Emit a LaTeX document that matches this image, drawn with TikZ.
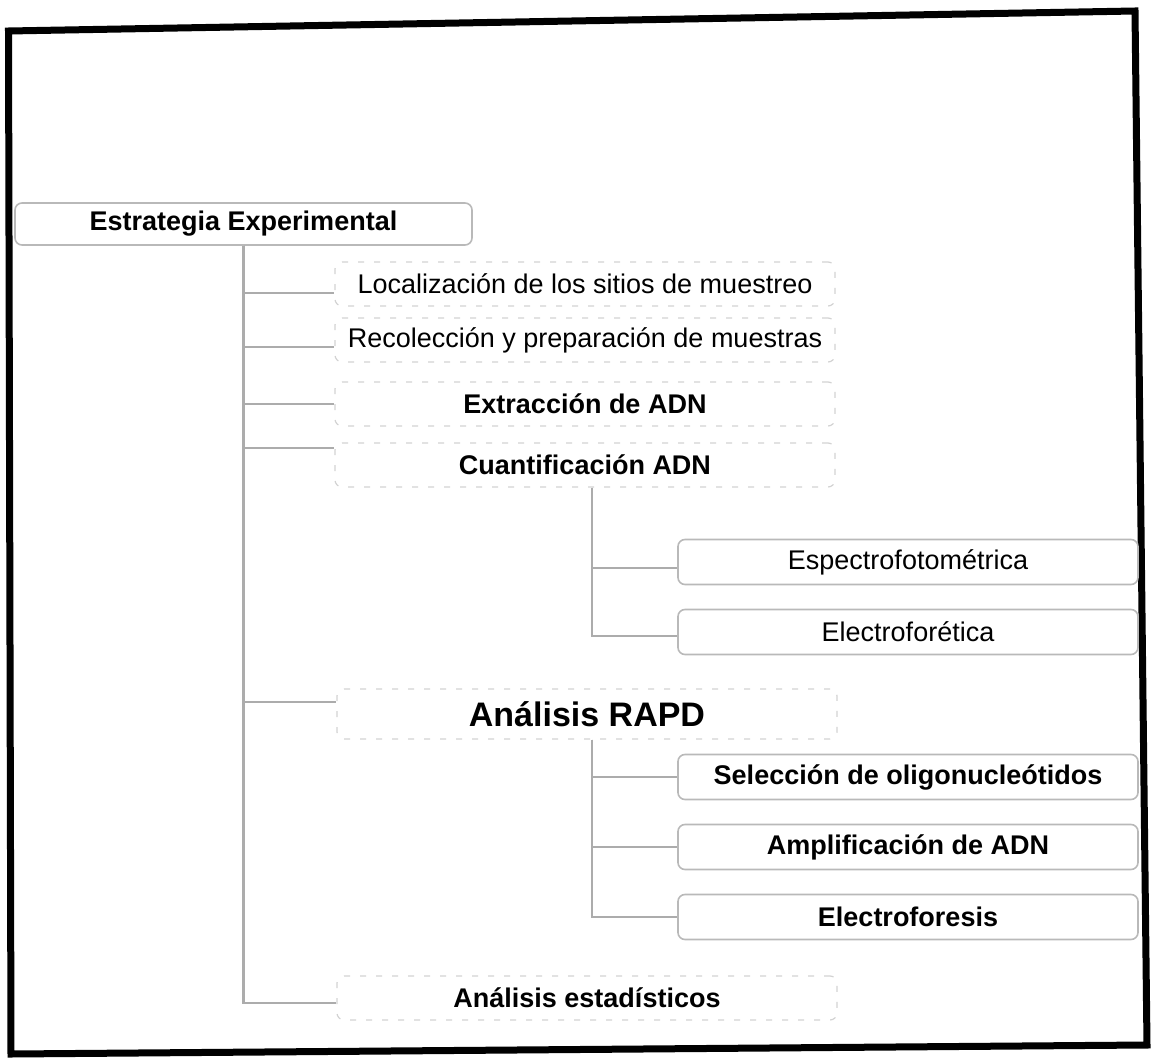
\documentclass[tikz,border=0pt]{standalone}
\usepackage{fontspec}
\setmainfont{Liberation Sans}
\usepackage{tikz}

\begin{document}
\begin{tikzpicture}[x=1pt,y=-1pt,
    txt/.style={font=\fontsize{27}{32}\selectfont, inner sep=0pt},
    bold/.style={font=\fontsize{27}{32}\selectfont\bfseries},
    solidbox/.style={txt, draw=gray!55, line width=1.6pt, rounded corners=7pt},
    faintbox/.style={txt, draw=gray!35, line width=1.2pt, dash pattern=on 6pt off 10pt, rounded corners=7pt},
    mainbox/.style={minimum width=500pt, minimum height=44pt},
    subbox/.style={minimum width=460pt, minimum height=45pt},
    link/.style={draw=gray!65, line width=2.4pt}]
  \useasboundingbox (0,0) rectangle (1152,1060);
  \draw[line width=7pt, line join=miter] (8.5,31) -- (1135,11) -- (1147,1045) -- (11,1054) -- cycle;

  \path
  (243.5,224) node[solidbox, bold, minimum width=457pt, minimum height=42pt] (root) {Estrategia Experimental}
  (585,284) node[faintbox, mainbox] (loc) {Localización de los sitios de muestreo}
  (585,340) node[faintbox, mainbox] (rec) {Recolección y preparación de muestras}
  (585,404) node[faintbox, mainbox, bold] (ext) {Extracción de ADN}
  (585,465) node[faintbox, mainbox, bold] (cua) {Cuantificación ADN}
  (908,562) node[solidbox, subbox] (esp) {Espectrofotométrica}
  (908,632) node[solidbox, subbox] (elt) {Electroforética}
  (587,714) node[faintbox, mainbox, minimum height=50pt, font=\fontsize{34}{40}\selectfont\bfseries] (rapd) {Análisis RAPD}
  (908,777) node[solidbox, subbox, bold] (sel) {Selección de oligonucleótidos}
  (908,847) node[solidbox, subbox, bold] (amp) {Amplificación de ADN}
  (908,917) node[solidbox, subbox, bold] (elf) {Electroforesis}
  (587,998) node[faintbox, mainbox, bold] (est) {Análisis estadísticos}
  ;

  \draw[link] (root.south) |- ([yshift=-9pt]loc.west);
  \draw[link] (root.south) |- ([yshift=-7pt]rec.west);
  \draw[link] (root.south) |- (ext.west);
  \draw[link] (root.south) |- ([yshift=17pt]cua.west);
  \draw[link] (root.south) |- ([yshift=12pt]rapd.west);
  \draw[link] (root.south) |- ([yshift=-5pt]est.west);

  \draw[link] ([xshift=7pt]cua.south) |- ([yshift=-6pt]esp.west);
  \draw[link] ([xshift=7pt]cua.south) |- ([yshift=-4pt]elt.west);

  \draw[link] ([xshift=5pt]rapd.south) |- (sel.west);
  \draw[link] ([xshift=5pt]rapd.south) |- (amp.west);
  \draw[link] ([xshift=5pt]rapd.south) |- (elf.west);
\end{tikzpicture}
\end{document}
